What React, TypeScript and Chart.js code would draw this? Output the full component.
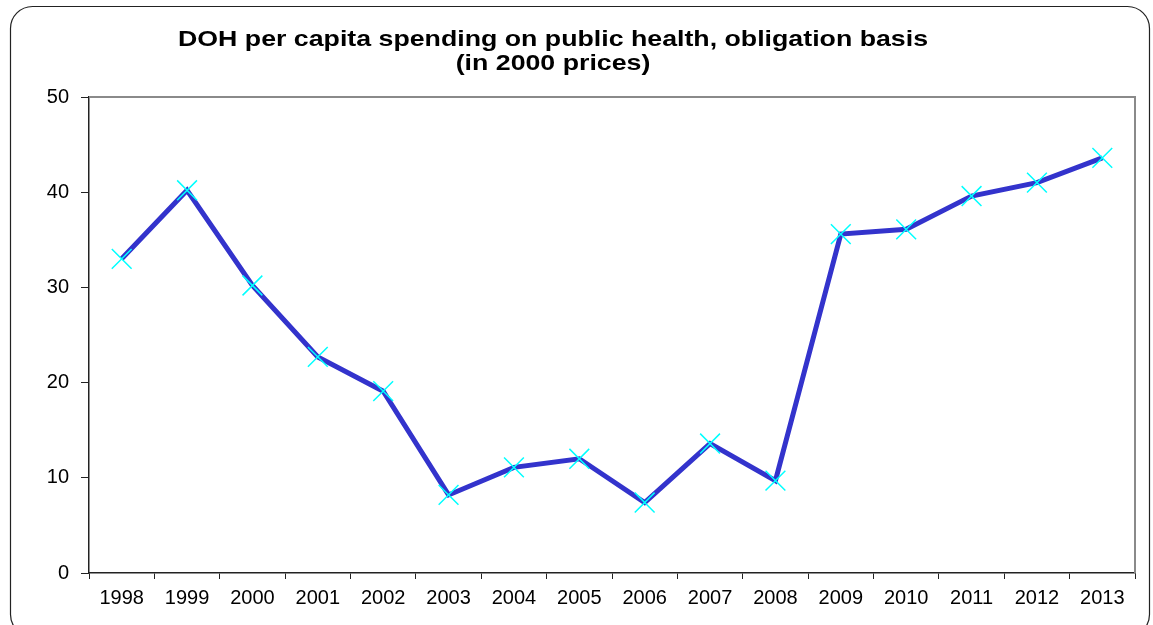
import React, { useEffect, useRef } from "react";
import { Chart, registerables } from "chart.js";

Chart.register(...registerables);

const years: string[] = ["1998","1999","2000","2001","2002","2003","2004","2005","2006","2007","2008","2009","2010","2011","2012","2013"];
const spending: number[] = [33.0, 40.2, 30.2, 22.7, 19.1, 8.2, 11.1, 12.0, 7.4, 13.6, 9.7, 35.6, 36.1, 39.6, 41.0, 43.6];
const titleLines: string[] = ["DOH per capita spending on public health, obligation basis", "(in 2000 prices)"];
const yTicks: number[] = [0, 10, 20, 30, 40, 50];

const FONT = "Arial, 'Liberation Sans', sans-serif";

const framePlugin = {
  id: "frame",
  beforeDraw(chart: any) {
    const ctx = chart.ctx;
    ctx.save();
    ctx.fillStyle = "#ffffff";
    ctx.fillRect(0, 0, chart.width, chart.height);
    ctx.strokeStyle = "#222222";
    ctx.lineWidth = 1.2;
    ctx.beginPath();
    (ctx as any).roundRect(10.5, 6.5, 1139, 630, 22);
    ctx.stroke();
    ctx.restore();
  },
  afterDraw(chart: any) {
    const ctx = chart.ctx;
    const a = chart.chartArea;
    ctx.save();
    ctx.strokeStyle = "#8a8a8a";
    ctx.lineWidth = 2;
    ctx.beginPath();
    ctx.moveTo(a.left, a.top);
    ctx.lineTo(a.right, a.top);
    ctx.lineTo(a.right, a.bottom);
    ctx.stroke();
    // title
    ctx.fillStyle = "#000000";
    ctx.font = "bold 22px " + FONT;
    ctx.textAlign = "center";
    ctx.textBaseline = "middle";
    const target = 750;
    const w0 = ctx.measureText(titleLines[0]).width;
    const sx = target / w0;
    ctx.translate(553, 0);
    ctx.scale(sx, 1);
    ctx.fillText(titleLines[0], 0, 40);
    ctx.fillText(titleLines[1], 0, 64);
    ctx.restore();
  },
};

export default function App() {
  const ref = useRef<HTMLCanvasElement | null>(null);
  useEffect(() => {
    if (!ref.current) return;
    const chart = new Chart(ref.current, {
      type: "line",
      data: {
        labels: years,
        datasets: [
          {
            data: spending,
            borderColor: "#3333CC",
            borderWidth: 5,
            pointStyle: "crossRot",
            pointRadius: 14,
            pointBorderColor: "#00FFFF",
            pointBorderWidth: 1.5,
            pointBackgroundColor: "#00FFFF",
            tension: 0,
          },
        ],
      },
      options: {
        responsive: false,
        animation: false,
        layout: { padding: { left: 10, right: 18, top: 97, bottom: 0 } },
        plugins: { legend: { display: false }, title: { display: false }, tooltip: { enabled: false } },
        scales: {
          x: {
            offset: true,
            grid: { display: true, drawOnChartArea: false, offset: true, tickLength: 6, color: "#222222", lineWidth: 1 },
            border: { display: true, color: "#222222", width: 1.5 },
            ticks: { color: "#000000", font: { family: FONT, size: 20 }, padding: 7, maxRotation: 0, autoSkip: false },
            afterFit(scale: any) { scale.height = 52; },
          },
          y: {
            min: 0,
            max: 50,
            afterBuildTicks(scale: any) { scale.ticks = yTicks.map((v) => ({ value: v })); },
            grid: { display: true, drawOnChartArea: false, tickLength: 8, color: "#222222", lineWidth: 1 },
            border: { display: true, color: "#222222", width: 1.5 },
            ticks: { color: "#000000", font: { family: FONT, size: 20 }, padding: 12 },
            afterFit(scale: any) { scale.width = 79; },
          },
        },
      },
      plugins: [framePlugin],
    });
    return () => chart.destroy();
  }, []);
  return (
    <div style={{ position: "absolute", left: 0, top: 0, width: 1153, height: 625, background: "#fff" }}>
      <canvas ref={ref} width={1153} height={625} />
    </div>
  );
}
